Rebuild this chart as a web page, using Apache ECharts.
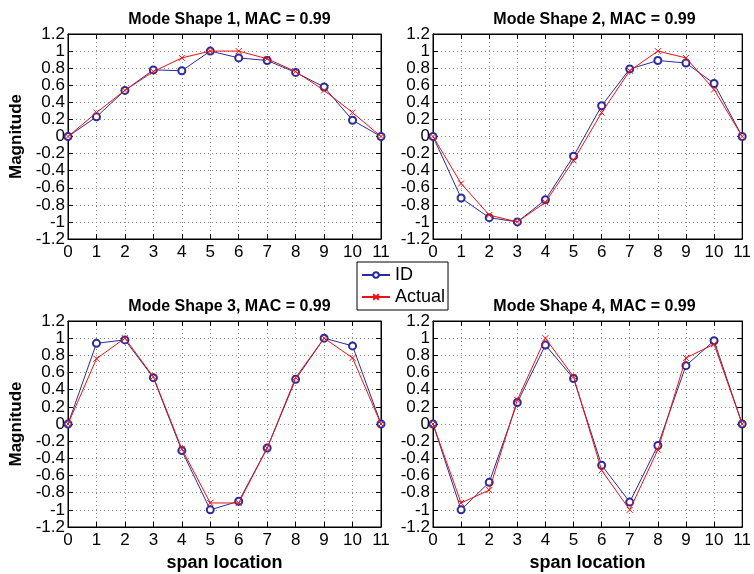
<!DOCTYPE html>
<html><head><meta charset="utf-8">
<script src="https://cdn.jsdelivr.net/npm/echarts@6/dist/echarts.min.js"></script>
<style>html,body{margin:0;padding:0;background:#fff}#c{width:754px;height:574px}</style>
</head><body><div id="c"></div>
<script>
const spanLocations = [0,1,2,3,4,5,6,7,8,9,10,11];
const titles = ['Mode Shape 1, MAC = 0.99','Mode Shape 2, MAC = 0.99','Mode Shape 3, MAC = 0.99','Mode Shape 4, MAC = 0.99'];
const mode1ID     = [0, 0.23, 0.54, 0.78, 0.77, 1.00, 0.92, 0.89, 0.75, 0.58, 0.19, 0];
const mode1Actual = [0, 0.28, 0.54, 0.76, 0.92, 1.00, 1.00, 0.91, 0.76, 0.54, 0.28, 0];
const mode2ID     = [0, -0.72, -0.95, -1.00, -0.74, -0.23, 0.36, 0.79, 0.89, 0.86, 0.62, 0];
const mode2Actual = [0, -0.55, -0.92, -1.00, -0.77, -0.28, 0.28, 0.77, 1.00, 0.92, 0.55, 0];
const mode3ID     = [0, 0.94, 0.98, 0.54, -0.31, -1.00, -0.90, -0.28, 0.52, 1.00, 0.91, 0];
const mode3Actual = [0, 0.76, 1.00, 0.55, -0.29, -0.92, -0.92, -0.28, 0.54, 1.00, 0.77, 0];
const mode4ID     = [0, -1.00, -0.68, 0.25, 0.92, 0.53, -0.48, -0.91, -0.25, 0.68, 0.97, 0];
const mode4Actual = [0, -0.92, -0.77, 0.28, 1.00, 0.55, -0.54, -1.00, -0.30, 0.77, 0.93, 0];
const idSets = [mode1ID, mode2ID, mode3ID, mode4ID];
const actualSets = [mode1Actual, mode2Actual, mode3Actual, mode4Actual];

const FONT = '"Liberation Sans", Arial, Helvetica, sans-serif';
const BLUE = '#2b2b9c';
const RED = '#f01010';
const gridPos = [
  {left:68, top:34, width:313, height:205},
  {left:433, top:34, width:313, height:205},
  {left:68, top:321, width:313, height:206},
  {left:433, top:321, width:313, height:206}
];
const grids = [], xAxes = [], yAxes = [], series = [], title = [];
const fmtY = v => { const r = Math.round(v*10)/10; return (Object.is(r,-0)?0:r).toString(); };
gridPos.forEach((g, i) => {
  grids.push(Object.assign({show:true, borderColor:'#000', borderWidth:1, containLabel:false}, g));
  title.push({text:titles[i], left:g.left + g.width/2, top:g.top - 27, textAlign:'center',
    textStyle:{fontFamily:FONT, fontSize:16, fontWeight:'bold', color:'#000'}});
  const common = {gridIndex:i, min:0, max:11, interval:1, type:'value'};
  xAxes.push(Object.assign({}, common, {position:'bottom',
    axisLine:{show:true, onZero:false, lineStyle:{color:'#000'}},
    axisTick:{show:true, inside:true, length:5, lineStyle:{color:'#000'}},
    axisLabel:{show:true, margin:5, fontFamily:FONT, fontSize:17, color:'#000'},
    splitLine:{show:true, lineStyle:{color:'#8a8a8a', type:[1,3], width:1}},
    name: i >= 2 ? 'span location' : '', nameLocation:'middle', nameGap:27,
    nameTextStyle:{fontFamily:FONT, fontSize:18, fontWeight:'bold', color:'#000'}
  }));
  xAxes.push(Object.assign({}, common, {position:'top',
    axisLine:{show:true, onZero:false, lineStyle:{color:'#000'}},
    axisTick:{show:true, inside:true, length:5, lineStyle:{color:'#000'}},
    axisLabel:{show:false}, splitLine:{show:false}}));
  const yc = {gridIndex:i, min:-1.2, max:1.2, interval:0.2, type:'value'};
  yAxes.push(Object.assign({}, yc, {position:'left',
    axisLine:{show:true, onZero:false, lineStyle:{color:'#000'}},
    axisTick:{show:true, inside:true, length:5, lineStyle:{color:'#000'}},
    axisLabel:{show:true, margin:3, fontFamily:FONT, fontSize:17, color:'#000', formatter:fmtY},
    splitLine:{show:true, lineStyle:{color:'#8a8a8a', type:[1,3], width:1}},
    name: (i % 2 === 0) ? 'Magnitude' : '', nameLocation:'middle', nameGap:43, nameRotate:90,
    nameTextStyle:{fontFamily:FONT, fontSize:17, fontWeight:'bold', color:'#000'}
  }));
  yAxes.push(Object.assign({}, yc, {position:'right',
    axisLine:{show:true, onZero:false, lineStyle:{color:'#000'}},
    axisTick:{show:true, inside:true, length:5, lineStyle:{color:'#000'}},
    axisLabel:{show:false}, splitLine:{show:false}}));
  series.push({name:'ID', type:'line', xAxisIndex:2*i, yAxisIndex:2*i,
    data: spanLocations.map((x,k)=>[x, idSets[i][k]]),
    symbol:'emptyCircle', symbolSize:7, showAllSymbol:true,
    lineStyle:{color:BLUE, width:1}, itemStyle:{color:BLUE, borderColor:BLUE, borderWidth:1},
    animation:false, z:3});
  series.push({name:'Actual', type:'line', xAxisIndex:2*i, yAxisIndex:2*i,
    data: spanLocations.map((x,k)=>[x, actualSets[i][k]]),
    symbol:'path://M0,0L10,10M10,0L0,10', symbolSize:6, showAllSymbol:true,
    lineStyle:{color:RED, width:1}, itemStyle:{color:'none', borderColor:RED, borderWidth:1},
    animation:false, z:4});
});

const chart = echarts.init(document.getElementById('c'), null, {renderer:'canvas'});
chart.setOption({
  animation:false,
  backgroundColor:'#fff',
  title: title,
  grid: grids, xAxis: xAxes, yAxis: yAxes, series: series,
  legend: {data:['ID','Actual'], orient:'vertical', left:357, top:262,
    backgroundColor:'#fff', borderColor:'#000', borderWidth:1, padding:[4,3,4,4],
    itemGap:4, itemWidth:28, itemHeight:7,
    textStyle:{fontFamily:FONT, fontSize:18, color:'#000'}}
});
</script></body></html>
